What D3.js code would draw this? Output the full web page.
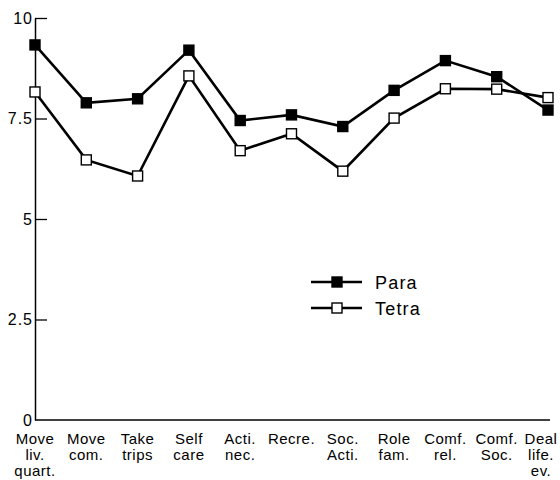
<!DOCTYPE html>
<html>
<head>
<meta charset="utf-8">
<script src="https://cdn.jsdelivr.net/npm/d3@7"></script>
<style>
body { margin: 0; background: #fff; }
text { font-family: "Liberation Sans", Arial, sans-serif; fill: #000; }
</style>
</head>
<body>
<svg width="560" height="480"></svg>
<script>
var categories = ["Move liv. quart.", "Move com.", "Take trips", "Self care", "Acti. nec.", "Recre.",
    "Soc. Acti.", "Role fam.", "Comf. rel.", "Comf. Soc.", "Deal life. ev."]
var catLines = [["Move", "liv.", "quart."], ["Move", "com."], ["Take", "trips"], ["Self", "care"],
    ["Acti.", "nec."], ["Recre."], ["Soc.", "Acti."], ["Role", "fam."], ["Comf.", "rel."],
    ["Comf.", "Soc."], ["Deal", "life.", "ev."]]
var para = [9.33, 7.89, 7.99, 9.2, 7.45, 7.59, 7.3, 8.2, 8.94, 8.54, 7.71]
var tetra = [8.16, 6.47, 6.07, 8.56, 6.7, 7.12, 6.19, 7.51, 8.24, 8.23, 8.02]
var yTicks = [0, 2.5, 5, 7.5, 10]

var svg = d3.select("svg")
var x = d3.scalePoint().domain(categories).range([35, 548])
var y = d3.scaleLinear().domain([0, 10]).range([420, 18])

// y axis, ticks pointing inward
var yAxis = svg.append("g").attr("transform", "translate(35,0)")
    .call(d3.axisLeft(y).tickValues(yTicks).tickSize(-12).tickSizeOuter(0).tickPadding(4)
        .tickFormat(function(d) { return d3.format("")(d) }))
yAxis.select(".domain").attr("stroke", "#000").attr("stroke-width", 1.5)
yAxis.selectAll(".tick line").attr("stroke", "#000").attr("stroke-width", 1.3)
yAxis.selectAll(".tick").filter(function(d) { return d === 0 }).select("line").remove()
yAxis.selectAll("text").style("font-size", "16px").style("letter-spacing", "1px").attr("x", -2)

// x axis line
svg.append("line")
    .attr("x1", 35).attr("x2", 550)
    .attr("y1", y(0)).attr("y2", y(0))
    .attr("stroke", "#000").attr("stroke-width", 1.5)

// category labels
var labels = svg.append("g")
categories.forEach(function(c, i) {
    var cx = Math.min(x(c), 541)
    var t = labels.append("text")
        .attr("x", cx).attr("y", 444)
        .attr("text-anchor", "middle")
        .style("font-size", "15px")
        .style("letter-spacing", "0.5px")
    catLines[i].forEach(function(line, j) {
        t.append("tspan").attr("x", cx).attr("dy", j === 0 ? 0 : 16).text(line)
    })
})

var line = d3.line()
    .x(function(d, i) { return x(categories[i]) })
    .y(function(d) { return y(d) })

var series = [
    { name: "Para", values: para, fill: "#000" },
    { name: "Tetra", values: tetra, fill: "#fff" }
]

series.forEach(function(s) {
    svg.append("path").datum(s.values)
        .attr("d", line)
        .attr("fill", "none")
        .attr("stroke", "#000")
        .attr("stroke-width", 2.6)
    svg.append("g").selectAll("rect").data(s.values).enter().append("rect")
        .attr("x", function(d, i) { return x(categories[i]) - 5 })
        .attr("y", function(d) { return y(d) - 5 })
        .attr("width", 10).attr("height", 10)
        .attr("fill", s.fill)
        .attr("stroke", "#000").attr("stroke-width", 1.4)
})

// legend
var legend = svg.append("g")
series.forEach(function(s, i) {
    var ly = 282 + i * 26
    legend.append("line")
        .attr("x1", 311).attr("x2", 362).attr("y1", ly).attr("y2", ly)
        .attr("stroke", "#000").attr("stroke-width", 2.6)
    legend.append("rect")
        .attr("x", 332).attr("y", ly - 5).attr("width", 10).attr("height", 10)
        .attr("fill", s.fill).attr("stroke", "#000").attr("stroke-width", 1.4)
    legend.append("text")
        .attr("x", 375).attr("y", ly + 7)
        .style("font-size", "18px")
        .style("letter-spacing", "1.2px")
        .text(s.name)
})
</script>
</body>
</html>
